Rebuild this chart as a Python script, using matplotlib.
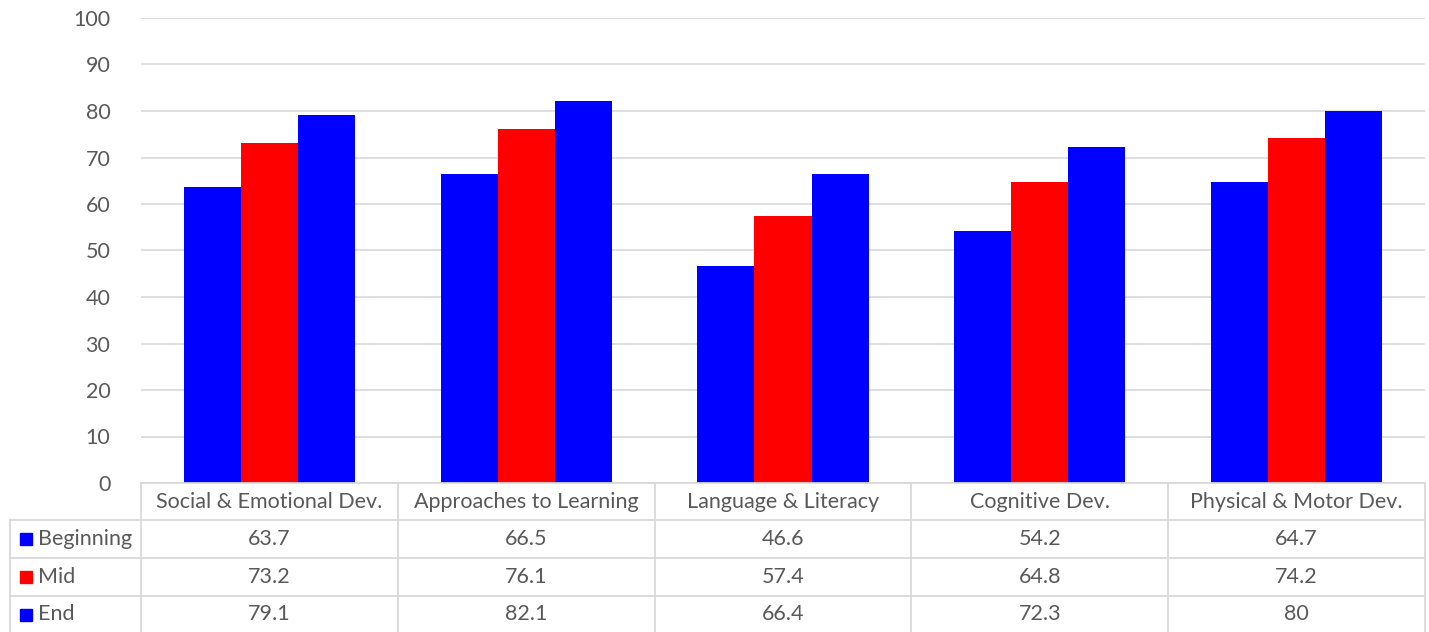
import matplotlib.pyplot as plt
from matplotlib.lines import Line2D
from matplotlib.patches import Rectangle
import numpy as np

plt.rcParams['font.family'] = ['Lato', 'DejaVu Sans']

# 数据
categories = ['Social & Emotional Dev.', 'Approaches to Learning',
              'Language & Literacy', 'Cognitive Dev.', 'Physical & Motor Dev.']
series_names = ['Beginning', 'Mid', 'End']
beginning = [63.7, 66.5, 46.6, 54.2, 64.7]
mid = [73.2, 76.1, 57.4, 64.8, 74.2]
end = [79.1, 82.1, 66.4, 72.3, 80]
value_labels = [['63.7', '66.5', '46.6', '54.2', '64.7'],
                ['73.2', '76.1', '57.4', '64.8', '74.2'],
                ['79.1', '82.1', '66.4', '72.3', '80']]
colors = ['#0000ff', '#ff0000', '#0000ff']

W, H = 1429, 632
fs = 15.5
fig = plt.figure(figsize=(W / 100, H / 100), dpi=100)
ax_left, ax_right, ax_top, ax_bottom = 141, 1425, 18, 483
ax = fig.add_axes([ax_left / W, 1 - ax_bottom / H,
                   (ax_right - ax_left) / W, (ax_bottom - ax_top) / H])

grid_c = '#d9d9d9'
text_c = '#595959'

x = np.arange(len(categories))
bw = 0.222
for i, vals in enumerate([beginning, mid, end]):
    ax.bar(x + (i - 1) * bw, vals, bw, color=colors[i], zorder=3)

ax.set_xlim(-0.5, len(categories) - 0.5)
ax.set_ylim(0, 100)
ax.set_yticks(range(0, 101, 10))
ax.yaxis.grid(True, color=grid_c, linewidth=1.2, zorder=0)
ax.set_xticks([])
for s in ax.spines.values():
    s.set_visible(False)
ax.tick_params(axis='y', length=0, pad=22, labelsize=fs, labelcolor=text_c)

# 表格
def px_line(x0, y0, x1, y1):
    fig.add_artist(Line2D([x0 / W, x1 / W], [1 - y0 / H, 1 - y1 / H],
                          color=grid_c, linewidth=1.3))

rows_y = [483, 520, 558, 596, 633]
col_w = (ax_right - ax_left) / len(categories)
cols_x = [ax_left + i * col_w for i in range(len(categories) + 1)]
label_left = 10

for j, y in enumerate(rows_y):
    x0 = ax_left if j == 0 else label_left
    px_line(x0, y, ax_right, y)
for cx in cols_x:
    px_line(cx, rows_y[0], cx, rows_y[-1])
px_line(label_left, rows_y[1], label_left, rows_y[-1])

for i, cat in enumerate(categories):
    fig.text((cols_x[i] + col_w / 2) / W, 1 - (rows_y[0] + rows_y[1]) / 2 / H,
             cat, ha='center', va='center', fontsize=fs, color=text_c)

for r, name in enumerate(series_names):
    yc = (rows_y[r + 1] + rows_y[r + 2]) / 2
    fig.add_artist(Rectangle((20 / W, 1 - (yc + 6) / H), 12 / W, 12 / H,
                             color=colors[r], transform=fig.transFigure))
    fig.text(38 / W, 1 - yc / H, name, ha='left', va='center',
             fontsize=fs, color=text_c)
    for i in range(len(categories)):
        fig.text((cols_x[i] + col_w / 2) / W, 1 - yc / H, value_labels[r][i],
                 ha='center', va='center', fontsize=fs, color=text_c)

plt.savefig('out.png', dpi=100)
